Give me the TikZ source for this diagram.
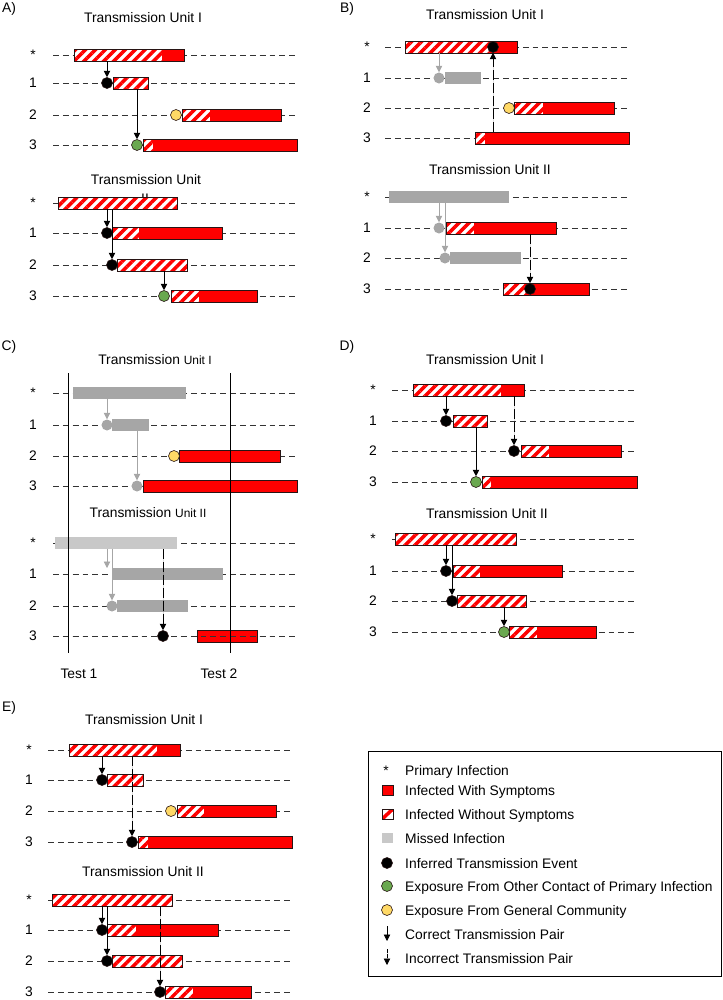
\documentclass[tikz,border=0pt]{standalone}
\usepackage{fontspec}
\setmainfont{Liberation Sans}
\usetikzlibrary{arrows.meta,patterns.meta,fit}
\definecolor{symred}{RGB}{255,0,0}
\definecolor{missed}{RGB}{166,166,166}
\definecolor{missedlt}{RGB}{200,200,200}
\definecolor{yellowc}{RGB}{255,217,102}
\definecolor{greenc}{RGB}{106,168,79}
\definecolor{outl}{RGB}{40,20,20}
\newcommand\txtfont{\fontsize{11.8}{14}\selectfont}
\newcommand\smfont{\fontsize{10.2}{12}\selectfont}
\tikzset{
  rowln/.style={draw=black!80, line width=0.75pt, dash pattern=on 5pt off 3.4pt},
  lbl/.style={font=\txtfont, inner sep=0},
  ttl/.style={font=\txtfont, inner sep=0},
  lgtext/.style={font=\txtfont, inner sep=0, anchor=base west},
  hatch/.style={pattern={Lines[angle=45,distance=6pt,line width=3pt]}, pattern color=symred},
  barbox/.style={draw=outl, line width=0.55pt, inner sep=0},
  evt/.style={circle, draw=outl, line width=0.5pt, minimum size=9.4pt, inner sep=0},
  inferred/.style={evt, fill=black},
  comm/.style={evt, fill=yellowc},
  other/.style={evt, fill=greenc},
  missedev/.style={circle, fill=missed, minimum size=9.4pt, inner sep=0},
  arr/.style={-{Triangle[width=5.5pt,length=5.5pt]}, line width=0.7pt, draw=black, fill=black},
  darr/.style={arr, dash pattern=on 8.5pt off 2.5pt},
  garr/.style={arr, draw=missed, fill=missed}
}
% name, x1 (start), x2 (end of hatched part), x3 (end), y
\newcommand\hatchbar[5]{%
  \fill[white] (#2,#5-6) rectangle (#3,#5+6);
  \fill[hatch] (#2,#5-6) rectangle (#3,#5+6);
  \fill[symred] (#3,#5-6) rectangle (#4,#5+6);
  \node[barbox, fit={(#2,#5-6) (#4,#5+6)}] (#1) {};}
% name, x1, x2, y, colour
\newcommand\greybar[5]{%
  \node[inner sep=0, fill=#5, fit={(#2,#4-6) (#3,#4+6)}] (#1) {};}
\newcommand\rowline[3]{\draw[rowln] (#1,#3) -- (#2,#3);}
% prefix, x, y*, y1, y2, y3
\newcommand\rowlabels[6]{%
  \node[lbl] (#1s) at (#2,#3) {*};
  \node[lbl] (#1a) at (#2,#4) {1};
  \node[lbl] (#1b) at (#2,#5) {2};
  \node[lbl] (#1c) at (#2,#6) {3};}
\newcommand\fourrows[6]{\rowline{#1}{#2}{#3}\rowline{#1}{#2}{#4}\rowline{#1}{#2}{#5}\rowline{#1}{#2}{#6}}

\begin{document}
\begin{tikzpicture}[x=0.03cm,y=-0.03cm]
\useasboundingbox (0,0) rectangle (723,1000);

% panel letters
\node[lbl] (pA) at (9,9) {A)};
\node[lbl] (pB) at (347,9) {B)};
\node[lbl] (pC) at (9,347) {C)};
\node[lbl] (pD) at (347,347) {D)};
\node[lbl] (pE) at (9,708) {E)};

% ===== A, unit I
\node[ttl] (tA1) at (143,18) {Transmission Unit I};
\rowlabels{lAa}{33}{55}{83}{115}{145}
\fourrows{53}{297}{55}{83}{115}{145}
\hatchbar{aS}{74}{162}{184}{55}
\hatchbar{a1}{113}{148}{148}{83}
\hatchbar{a2}{182}{210}{281}{115}
\hatchbar{a3}{143}{153}{297}{145}
\node[inferred] (a1c) at (107,83) {};
\node[comm] (a2c) at (176,115) {};
\node[other] (a3c) at (137,145) {};
\draw[arr] (a1c |- aS.south) -- (a1c.north);
\draw[arr] (a3c |- a1.south) -- (a3c.north);

% ===== A, unit II
\node[ttl] (tA2) at (146,180) {Transmission Unit};
\node[ttl] (tA2b) at (145,199) {II};
\rowlabels{lAb}{33}{203}{233}{265}{296}
\fourrows{53}{297}{203}{233}{265}{296}
\hatchbar{bS}{58}{177}{177}{203}
\hatchbar{b1}{112}{139}{222}{233}
\hatchbar{b2}{117}{187}{187}{265}
\hatchbar{b3}{171}{199}{257}{296}
\node[inferred] (b1c) at (107,233) {};
\node[inferred] (b2c) at (112,265) {};
\node[other] (b3c) at (164,296) {};
\draw[arr] (b1c |- bS.south) -- (b1c.north);
\draw[arr] (b2c |- bS.south) -- (b2c.north);
\draw[arr] (b3c |- b2.south) -- (b3c.north);

% ===== B, unit I
\node[ttl] (tB1) at (485,15) {Transmission Unit I};
\rowlabels{lBa}{367}{47}{78}{108}{138}
\fourrows{385}{630}{47}{78}{108}{138}
\hatchbar{cS}{405}{493}{517}{47}
\greybar{c1}{445}{481}{78}{missed}
\hatchbar{c2}{514}{543}{614}{108}
\hatchbar{c3}{475}{485}{629}{138}
\node[inferred] (cSc) at (493,47) {};
\node[missedev] (c1c) at (439,78) {};
\node[comm] (c2c) at (509,108) {};
\draw[garr] (c1c |- cS.south) -- (c1c.north);
\draw[darr] (cSc |- c3.north) -- (cSc.south);

% ===== B, unit II
\node[ttl] (tB2) at (490,170) {Transmission Unit II};
\rowlabels{lBb}{367}{197}{228}{258}{289}
\fourrows{385}{630}{197}{228}{258}{289}
\greybar{dS}{389}{509}{197}{missed}
\hatchbar{d1}{446}{474}{556}{228}
\greybar{d2}{450}{521}{258}{missed}
\hatchbar{d3}{503}{530}{589}{289}
\node[missedev] (d1c) at (439,228) {};
\node[missedev] (d2c) at (445,258) {};
\node[inferred] (d3c) at (530,289) {};
\draw[garr] (d1c |- dS.south) -- (d1c.north);
\draw[garr] (d2c |- dS.south) -- (d2c.north);
\draw[darr] (d3c |- d1.south) -- (d3c.north);

% ===== C, unit I
\node[ttl] (tC1) at (155,360) {Transmission {\smfont Unit I}};
\rowlabels{lCa}{33}{393}{425}{456}{486}
\fourrows{53}{297}{393}{425}{456}{486}
\greybar{eS}{73}{186}{393}{missed}
\greybar{e1}{112}{149}{425}{missed}
\hatchbar{e2}{179}{179}{280}{456}
\hatchbar{e3}{143}{143}{297}{486}
\node[missedev] (e1c) at (107,425) {};
\node[comm] (e2c) at (174,456) {};
\node[missedev] (e3c) at (137,486) {};
\draw[garr] (e1c |- eS.south) -- (e1c.north);
\draw[garr] (e3c |- e1.south) -- (e3c.north);

% ===== C, unit II
\node[ttl] (tC2) at (148,513) {Transmission {\smfont Unit II}};
\rowlabels{lCb}{33}{543}{574}{606}{636}
\fourrows{53}{297}{543}{574}{606}{636}
\greybar{fS}{55}{177}{543}{missedlt}
\greybar{f1}{113}{223}{574}{missed}
\greybar{f2}{117}{188}{606}{missed}
\hatchbar{f3}{197}{197}{257}{636}
\rowline{53}{297}{636}
\coordinate (f1c) at (107,568);
\node[missedev] (f2c) at (112,606) {};
\node[inferred] (f3c) at (163,636) {};
\draw[garr] (f1c |- fS.south) -- (f1c);
\draw[garr] (f2c |- fS.south) -- (f2c.north);
\draw[darr] (f3c |- fS.south) -- (f3c.north);
% test lines
\coordinate (t1a) at (68,373);
\coordinate (t1b) at (68,653);
\coordinate (t2a) at (230,373);
\coordinate (t2b) at (230,653);
\draw[black, line width=0.8pt] (t1a) -- (t1b);
\draw[black, line width=0.8pt] (t2a) -- (t2b);
\node[lbl] (test1) at (79,674) {Test 1};
\node[lbl] (test2) at (219,674) {Test 2};

% ===== D, unit I
\node[ttl] (tD1) at (485,360) {Transmission Unit I};
\rowlabels{lDa}{373}{390}{421}{451}{482}
\fourrows{392}{637}{390}{421}{451}{482}
\hatchbar{gS}{413}{501}{524}{390}
\hatchbar{g1}{453}{487}{487}{421}
\hatchbar{g2}{521}{549}{621}{451}
\hatchbar{g3}{482}{491}{637}{482}
\node[inferred] (g1c) at (446,421) {};
\node[inferred] (g2c) at (514,451) {};
\node[other] (g3c) at (476,482) {};
\draw[arr] (g1c |- gS.south) -- (g1c.north);
\draw[darr] (g2c |- gS.south) -- (g2c.north);
\draw[arr] (g3c |- g1.south) -- (g3c.north);

% ===== D, unit II
\node[ttl] (tD2) at (487,514) {Transmission Unit II};
\rowlabels{lDb}{373}{539}{571}{601}{632}
\fourrows{392}{637}{539}{571}{601}{632}
\hatchbar{hS}{395}{516}{516}{539}
\hatchbar{h1}{453}{480}{562}{571}
\hatchbar{h2}{457}{526}{526}{601}
\hatchbar{h3}{509}{537}{596}{632}
\node[inferred] (h1c) at (446,571) {};
\node[inferred] (h2c) at (452,601) {};
\node[other] (h3c) at (504,632) {};
\draw[arr] (h1c |- hS.south) -- (h1c.north);
\draw[arr] (h2c |- hS.south) -- (h2c.north);
\draw[arr] (h3c |- h2.south) -- (h3c.north);

% ===== E, unit I
\node[ttl] (tE1) at (144,720) {Transmission Unit I};
\rowlabels{lEa}{29}{750}{780}{811}{842}
\fourrows{48}{292}{750}{780}{811}{842}
\hatchbar{iS}{69}{157}{180}{750}
\hatchbar{i1}{107}{143}{143}{780}
\hatchbar{i2}{177}{204}{276}{811}
\hatchbar{i3}{138}{148}{292}{842}
\node[inferred] (i1c) at (102,780) {};
\node[comm] (i2c) at (171,811) {};
\node[inferred] (i3c) at (132,842) {};
\draw[arr] (i1c |- iS.south) -- (i1c.north);
\draw[darr] (i3c |- iS.south) -- (i3c.north);

% ===== E, unit II
\node[ttl] (tE2) at (143,872) {Transmission Unit II};
\rowlabels{lEb}{29}{900}{930}{961}{992}
\fourrows{48}{292}{900}{930}{961}{992}
\hatchbar{jS}{52}{172}{172}{900}
\hatchbar{j1}{107}{136}{218}{930}
\hatchbar{j2}{112}{182}{182}{961}
\hatchbar{j3}{165}{193}{251}{992}
\node[inferred] (j1c) at (102,930) {};
\node[inferred] (j2c) at (107,961) {};
\node[inferred] (j3c) at (160,992) {};
\draw[arr] (j1c |- jS.south) -- (j1c.north);
\draw[arr] (j2c |- jS.south) -- (j2c.north);
\draw[darr] (j3c |- jS.south) -- (j3c.north);

% ===== legend
\node[draw=black, line width=0.8pt, inner sep=0, fit={(368,751) (721.5,976)}] (legend) {};
\node[lbl] (lg1s) at (386,771) {*};
\node[lgtext] (lg1) at (405,775) {Primary Infection};
\node[barbox, fill=symred, fit={(382,785) (393,795)}] (lg2s) {};
\node[lgtext] (lg2) at (405,795) {Infected With Symptoms};
\begin{scope}
  \clip (382,809) rectangle (393,819);
  \fill[white] (382,809) rectangle (393,819);
  \draw[symred, line width=3pt] (380,821) -- (395,807);
\end{scope}
\node[barbox, fit={(382,809) (393,819)}] (lg3s) {};
\node[lgtext] (lg3) at (405,819) {Infected Without Symptoms};
\node[inner sep=0, fill=missedlt, fit={(382,833) (393,843)}] (lg4s) {};
\node[lgtext] (lg4) at (405,843) {Missed Infection};
\node[inferred] (lg5s) at (387,863) {};
\node[lgtext] (lg5) at (405,868) {Inferred Transmission Event};
\node[other] (lg6s) at (387,886) {};
\node[lgtext] (lg6) at (405,891) {Exposure From Other Contact of Primary Infection};
\node[comm] (lg7s) at (387,910) {};
\node[lgtext] (lg7) at (405,915) {Exposure From General Community};
\coordinate (lg8a) at (387,926);
\coordinate (lg8b) at (387,941);
\draw[arr] (lg8a) -- (lg8b);
\node[lgtext] (lg8) at (405,939) {Correct Transmission Pair};
\coordinate (lg9a) at (387,949);
\coordinate (lg9b) at (387,965);
\draw[arr, dash pattern=on 3pt off 1.5pt] (lg9a) -- (lg9b);
\node[lgtext] (lg9) at (405,963) {Incorrect Transmission Pair};
\end{tikzpicture}
\end{document}
